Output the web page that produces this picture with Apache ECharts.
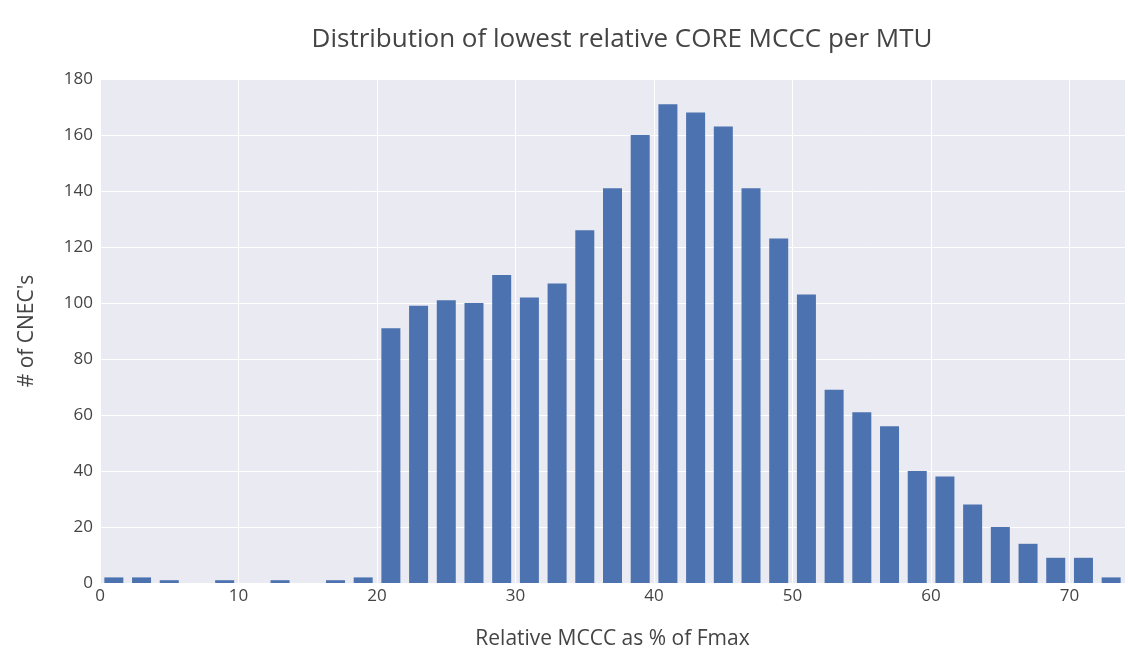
<!DOCTYPE html>
<html>
<head>
<meta charset="utf-8">
<script src="https://cdn.jsdelivr.net/npm/echarts@6/dist/echarts.min.js"></script>
<style>
html,body{margin:0;padding:0;background:#fff;}
#chart{width:1128px;height:655px;}
</style>
</head>
<body>
<div id="chart"></div>
<script>
// Histogram bins (centre of each 2%-wide bin) and counts
const binCenters = [1,3,5,7,9,11,13,15,17,19,21,23,25,27,29,31,33,35,37,39,41,43,45,47,49,51,53,55,57,59,61,63,65,67,69,71,73];
const counts = [2,2,1,0,1,0,1,0,1,2,91,99,101,100,110,102,107,126,141,160,171,168,163,141,123,103,69,61,56,40,38,28,20,14,9,9,2];
const yTicks = [0,20,40,60,80,100,120,140,160,180];
const xTicks = [0,10,20,30,40,50,60,70];

const chart = echarts.init(document.getElementById('chart'), null, {renderer:'canvas'});
const font = '"Open Sans", "Noto Sans", sans-serif';
chart.setOption({
  animation: false,
  backgroundColor: '#ffffff',
  title: {
    text: 'Distribution of lowest relative CORE MCCC per MTU',
    left: 617, top: 22, textAlign: 'center',
    textStyle: {fontFamily: font, fontSize: 26, fontWeight: 'normal', color: '#444'}
  },
  grid: {
    left: 100, right: -6, top: 79, bottom: 70,
    show: true, backgroundColor: '#eaeaf2', borderWidth: 0
  },
  xAxis: {
    type: 'value', min: 0, max: 74, interval: 10,
    name: 'Relative MCCC as % of Fmax', nameLocation: 'middle', nameGap: 46,
    nameTextStyle: {fontFamily: font, fontSize: 21, color: '#444'},
    axisLine: {show: false}, axisTick: {show: false},
    axisLabel: {
      fontFamily: font, fontSize: 17, color: '#444', margin: 5,
      formatter: v => (xTicks.indexOf(v) >= 0 ? String(v) : '')
    },
    splitLine: {show: true, lineStyle: {color: '#ffffff', width: 1}}
  },
  yAxis: {
    type: 'value', min: 0, max: 180, interval: 20,
    name: "# of CNEC's", nameLocation: 'middle', nameGap: 62, nameRotate: 90,
    nameTextStyle: {fontFamily: font, fontSize: 21, color: '#444'},
    axisLine: {show: false}, axisTick: {show: false},
    axisLabel: {
      fontFamily: font, fontSize: 17, color: '#444', margin: 7,
      formatter: v => (yTicks.indexOf(v) >= 0 ? String(v) : '')
    },
    splitLine: {show: true, lineStyle: {color: '#ffffff', width: 1}}
  },
  series: [{
    type: 'bar',
    data: binCenters.map((c, i) => [c, counts[i]]),
    barWidth: 19,
    itemStyle: {color: 'rgb(76,114,176)'},
    clip: true
  }]
});
</script>
</body>
</html>
